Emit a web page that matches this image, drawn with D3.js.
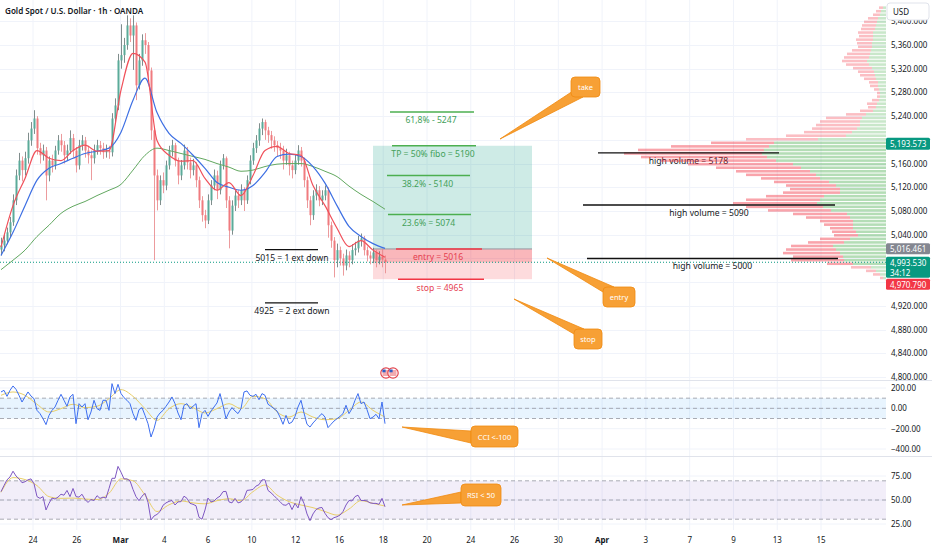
<!DOCTYPE html>
<html>
<head>
<meta charset="utf-8">
<script src="https://cdn.jsdelivr.net/npm/d3@7"></script>
<style>
  body { margin: 0; background: #fff; }
  svg { display: block; font-family: "Noto Sans", Roboto, sans-serif; }
</style>
</head>
<body>
<script>
// ---- data ----
const title = "Gold Spot / U.S. Dollar · 1h · OANDA";
const dateLabels = ["24","26","Mar","4","6","10","12","16","18","20","24","26","30","Apr","3","7","9","13","15"];
const boldDates = ["Mar", "Apr"];
const priceTicks = [4800,4840,4880,4920,4960,5000,5040,5080,5120,5160,5200,5240,5280,5320,5360,5400];
const cciTicks = [200, 0, -200, -400];
const rsiTicks = [75, 50, 25];

const opens = [5015,5022,5030,5044,5061,5098,5140,5165,5149,5169,
5199,5219,5236,5186,5174,5182,5140,5165,5157,5182,
5199,5191,5174,5182,5203,5182,5157,5191,5199,5182,
5174,5169,5182,5191,5186,5179,5182,5179,5236,5258,
5334,5343,5360,5393,5376,5393,5292,5334,5368,5360,
5317,5216,5140,5098,5132,5123,5157,5182,5191,5165,
5140,5157,5182,5162,5149,5157,5132,5098,5073,5064,
5098,5123,5140,5115,5157,5169,5098,5047,5089,5106,
5098,5115,5098,5132,5165,5186,5199,5219,5230,5216,
5208,5199,5191,5186,5182,5165,5174,5157,5149,5165,
5182,5165,5132,5098,5073,5106,5115,5098,5106,5115,
5056,5030,4997,5014,5000,4988,5005,4997,5014,5017,
5030,5034,5014,5005,5000,5010,4997,5003,4998];
const highs = [5035,5040,5052,5070,5108,5150,5178,5172,5180,5212,
5230,5250,5240,5195,5192,5188,5172,5175,5190,5208,
5210,5198,5192,5216,5210,5188,5200,5208,5205,5190,
5182,5192,5200,5198,5195,5192,5190,5245,5270,5345,
5395,5372,5410,5405,5410,5398,5345,5378,5380,5365,
5322,5222,5150,5140,5145,5165,5190,5200,5195,5170,
5166,5192,5188,5170,5168,5162,5138,5105,5082,5108,
5132,5150,5148,5165,5176,5172,5105,5098,5115,5115,
5125,5120,5140,5174,5195,5208,5228,5236,5234,5222,
5215,5206,5198,5195,5190,5185,5180,5165,5175,5191,
5188,5170,5138,5105,5115,5125,5122,5115,5123,5120,
5062,5036,5025,5020,5008,5015,5012,5024,5028,5038,
5042,5038,5020,5012,5018,5015,5012,5016,5005];
const lows = [5005,5012,5024,5036,5055,5090,5132,5130,5140,5160,
5190,5210,5175,5160,5165,5098,5130,5145,5150,5175,
5180,5160,5165,5176,5170,5145,5150,5182,5170,5160,
5132,5160,5175,5175,5168,5170,5168,5172,5228,5250,
5320,5330,5352,5365,5318,5267,5285,5325,5345,5300,
5200,4997,5081,5090,5110,5115,5150,5172,5155,5125,
5132,5150,5150,5135,5140,5120,5085,5062,5051,5058,
5090,5115,5100,5108,5150,5085,5017,5040,5080,5085,
5090,5080,5092,5125,5158,5178,5190,5208,5200,5195,
5185,5180,5172,5168,5150,5158,5140,5135,5142,5158,
5155,5120,5085,5056,5065,5098,5088,5090,5098,5035,
5018,4968,4985,4988,4971,4980,4985,4990,5005,5010,
5020,5005,4995,4990,4992,4985,4990,4985,4975];
const closes = [5022,5030,5044,5061,5098,5140,5165,5149,5169,5199,
5219,5236,5186,5174,5182,5140,5165,5157,5182,5199,
5191,5174,5182,5203,5182,5157,5191,5199,5182,5174,
5169,5182,5191,5186,5179,5182,5179,5236,5258,5334,
5343,5360,5393,5376,5393,5292,5334,5368,5360,5317,
5216,5140,5098,5132,5123,5157,5182,5191,5165,5140,
5157,5182,5162,5149,5157,5132,5098,5073,5064,5098,
5123,5140,5115,5157,5169,5098,5047,5089,5106,5098,
5115,5098,5132,5165,5186,5199,5219,5230,5216,5208,
5199,5191,5186,5182,5165,5174,5157,5149,5165,5182,
5165,5132,5098,5073,5106,5115,5098,5106,5115,5056,
5030,4997,5014,5000,4988,5005,4997,5014,5017,5030,
5034,5014,5005,5000,5010,4997,5003,4998,4993.53];

// moving averages, one value every 4 bars
const maStep = 4;
const maFast = [5019,5089,5135,5182,5169,5165,5182,5191,5181,5182,5284,5346,5331,5199,5174,5164,5165,5135,5115,5128,5106,5140,5182,5189,5177,5174,5123,5089,5051,5020,5030,5014,5002];
const maMid  = [5005,5044,5089,5132,5152,5160,5169,5177,5181,5186,5213,5267,5304,5246,5211,5194,5174,5152,5128,5120,5115,5123,5145,5172,5176,5172,5155,5127,5089,5054,5037,5025,5017];
const maSlow = [4981,4997,5014,5037,5056,5076,5088,5096,5106,5115,5125,5149,5174,5186,5182,5177,5172,5167,5160,5154,5147,5149,5155,5159,5160,5160,5155,5147,5138,5122,5108,5096,5083];

const cci = [161,177,118,177,220,187,128,62,112,161,
121,95,-20,-52,-102,-160,-69,-20,13,79,
138,79,20,112,138,-151,46,13,46,-112,
-36,79,-3,-20,79,79,-20,243,145,236,
145,105,79,46,-52,-118,-13,7,-69,-151,
-282,-200,-86,-46,-20,20,62,112,46,-46,
-112,30,46,-3,20,46,-190,-52,-20,-79,
-26,13,53,145,30,-102,-36,7,-26,-52,
-3,161,171,128,118,138,85,145,128,40,
20,-3,-26,-86,-157,-69,-151,-135,-79,13,
79,-46,-157,-184,-144,-112,-79,-52,-86,-190,
-157,-125,-102,-79,-52,30,-52,-3,79,145,
46,62,-13,-102,-86,-59,-102,62,-151];
const cciSignal = [128,161,128,40,-36,-3,40,7,20,95,184,118,-3,-118,-3,46,7,-46,-3,46,-3,118,95,-36,-86,-36,-86,-112,-102,-20,62,-20,-86];

const rsi = [58.7,65,71,74,80,75,72,68,69,71,
72,67,53.5,51.7,53.5,39.6,46.5,52,51,53,
56,55,60,53.5,62,53.5,53,56,50.5,47.5,
50.5,49.5,54.5,51.7,53,52,62,72.6,72.6,85,
79,72,72,70,61,53.5,49.3,54,57,47.5,
29.2,33.3,35,38,44.5,47,48.6,49.5,44.8,48,
48.3,54,51.7,46.5,45.5,44,32,30,39.6,52,
48,49,52,54,58.7,59,48,47,51.7,47,
48,51.7,60,60.4,61,64.5,66,71,71,60,
57.5,54.5,51.3,48.3,45,44.5,47,40,46.5,41.7,
53.5,46.5,35.5,28.5,35.5,40,41.7,42.2,36.1,31.6,
29.5,31.6,32.6,34.3,38,44.8,49.5,49,53.5,55,
49.5,49.5,49,47,46.5,46.5,45.5,51.7,43];
const rsiSignal = [58,73.3,71.3,65,53.5,51.7,52,51,50.5,57,72,70,55.2,38,45,49,47,46,49.3,51.3,49.3,58.7,65.6,55.2,48.3,44.8,42,38,34.3,40.6,49.3,46.5,43.7];

// visible range volume profile, rows of 6 from 4964
const profileStart = 4964, profileStep = 6;
const profileTotal = [6,13,20,35,59,95,93,103,100,95,78,66,52,54,56,62,66,80,93,118,140,153,140,120,103,96,100,112,125,140,150,170,198,225,245,262,248,215,175,140,100,82,74,70,66,60,40,26,18,19,14,9,9,12,16,17,22,26,28,33,40,44,42,39,34,28,29,30,27,28,25,24,22,18,13,10,7];
const profileUp = [3,6,10,15,33,42,43,46,50,53,42,36,28,30,33,33,33,36,39,55,63,69,66,62,46,46,50,57,66,70,76,85,93,110,119,124,122,117,112,68,40,34,29,26,26,24,20,13,10,9,7,6,6,7,8,8,10,11,12,14,17,19,17,16,15,14,14,13,13,13,11,10,9,8,6,5,3];
const valueArea = [4988, 5200];

// drawings
const takeProfit = 5190, entryPrice = 5016, stopPrice = 4965;
const levelTexts = ["61,8% - 5247", "TP = 50% fibo = 5190", "38.2% - 5140", "23.6% = 5074", "entry = 5016", "stop = 4965"];
const levelPrices = [5247, 5190, 5140, 5074, 5016, 4965];
const extTexts = ["5015 = 1 ext down", "4925  = 2 ext down"];
const extPrices = [5015, 4925];
const hvTexts = ["high volume = 5178", "high volume = 5090", "high volume = 5000"];
const hvPrices = [5178, 5090, 5000];
const calloutTexts = ["take", "entry", "stop", "CCI <-100", "RSI < 50"];

const lastPrice = 4993.53, countdown = "34:12";
const axisMarks = [5193.573, 5016.461, 4970.790];

// ---- layout ----
const W = 932, H = 550;
const plotR = 886;
const mainBottom = 380, cciBottom = 456, rsiBottom = 530;

const svg = d3.select("body").append("svg").attr("width", W).attr("height", H);
const defs = svg.append("defs");
defs.append("clipPath").attr("id", "clipMain").append("rect").attr("x", 0).attr("y", 0).attr("width", plotR).attr("height", mainBottom);
defs.append("clipPath").attr("id", "clipCci").append("rect").attr("x", 0).attr("y", mainBottom + 1).attr("width", plotR).attr("height", cciBottom - mainBottom - 1);
defs.append("clipPath").attr("id", "clipRsi").append("rect").attr("x", 0).attr("y", cciBottom + 1).attr("width", plotR).attr("height", rsiBottom - cciBottom - 1);

const xBar = d3.scaleLinear().domain([0, closes.length - 1]).range([1, 385]);
const xDate = d3.scaleLinear().domain([0, dateLabels.length - 1]).range([33, 821]);
const y = d3.scaleLinear().domain([4800, 5360]).range([377, 45]);
const yCci = d3.scaleLinear().domain([-400, 200]).range([449, 388]);
const yRsi = d3.scaleLinear().domain([25, 75]).range([524, 476]);
const xVol = d3.scaleLinear().domain([0, 300]).range([plotR, plotR - 300]);

const ink = "#131722";
const gridC = "#f0f3fa";

// grid
const grid = svg.append("g");
grid.selectAll("line.v").data(dateLabels).join("line")
  .attr("x1", (d, i) => xDate(i)).attr("x2", (d, i) => xDate(i))
  .attr("y1", 0).attr("y2", rsiBottom)
  .attr("stroke", gridC);
grid.selectAll("line.h").data(priceTicks).join("line")
  .attr("x1", 0).attr("x2", plotR)
  .attr("y1", d => Math.round(y(d)) + 0.5).attr("y2", d => Math.round(y(d)) + 0.5)
  .attr("stroke", gridC);
grid.selectAll("line.hc").data(cciTicks).join("line")
  .attr("x1", 0).attr("x2", plotR).attr("y1", d => yCci(d)).attr("y2", d => yCci(d)).attr("stroke", gridC);
grid.selectAll("line.hr").data(rsiTicks).join("line")
  .attr("x1", 0).attr("x2", plotR).attr("y1", d => yRsi(d)).attr("y2", d => yRsi(d)).attr("stroke", gridC);

// panel separators
svg.selectAll("line.sep").data([mainBottom, cciBottom]).join("line")
  .attr("x1", 0).attr("x2", W).attr("y1", d => d + 0.5).attr("y2", d => d + 0.5)
  .attr("stroke", "#e0e3eb");

// ---- main pane ----
const main = svg.append("g").attr("clip-path", "url(#clipMain)");

// long position box
const posL = 373, posR = 532;
main.append("rect").attr("x", posL).attr("width", posR - posL)
  .attr("y", y(takeProfit)).attr("height", y(entryPrice) - y(takeProfit))
  .attr("fill", "rgba(8,153,129,0.2)");
main.append("rect").attr("x", posL).attr("width", posR - posL)
  .attr("y", y(entryPrice)).attr("height", y(stopPrice) - y(entryPrice))
  .attr("fill", "rgba(242,54,69,0.18)");
main.append("rect").attr("x", posL).attr("width", posR - posL)
  .attr("y", y(entryPrice)).attr("height", y(lastPrice) - y(entryPrice))
  .attr("fill", "rgba(242,54,69,0.22)");
main.append("line").attr("x1", posL).attr("x2", posR)
  .attr("y1", y(entryPrice)).attr("y2", y(entryPrice)).attr("stroke", "#9598a1");

// high volume labels sit under the profile
const hvLines = [[598, 779], [583, 835], [587, 838]];
main.selectAll("text.hv").data(hvTexts).join("text")
  .attr("x", (d, i) => (hvLines[i][0] + hvLines[i][1]) / 2)
  .attr("y", (d, i) => y(hvPrices[i]) + 11)
  .attr("text-anchor", "middle").attr("font-size", 8.6).attr("fill", ink)
  .text(d => d);

// volume profile
const rows = profileTotal.map((t, k) => ({
  k, total: t, up: profileUp[k],
  price: profileStart + profileStep * (k + 0.5)
}));
const inVA = d => d.price >= valueArea[0] && d.price <= valueArea[1];
const rowH = Math.abs(y(0) - y(profileStep)) * 0.72;
const vp = main.append("g");
vp.selectAll("rect.dn").data(rows).join("rect")
  .attr("x", d => xVol(d.total)).attr("width", d => xVol(d.up) - xVol(d.total))
  .attr("y", d => y(d.price) - rowH / 2).attr("height", rowH)
  .attr("fill", d => inVA(d) ? "rgba(242,54,69,0.45)" : "rgba(242,54,69,0.32)");
vp.selectAll("rect.up").data(rows).join("rect")
  .attr("x", d => xVol(d.up)).attr("width", d => plotR - xVol(d.up))
  .attr("y", d => y(d.price) - rowH / 2).attr("height", rowH)
  .attr("fill", d => inVA(d) ? "rgba(76,175,80,0.42)" : "rgba(76,175,80,0.3)");

// candles
const candles = closes.map((c, i) => ({ i, o: opens[i], h: highs[i], l: lows[i], c }));
const upC = "#3f9d89", dnC = "#ee6569";
const cg = main.append("g").attr("opacity", 0.85);
cg.selectAll("line").data(candles).join("line")
  .attr("x1", d => xBar(d.i) + 0.5).attr("x2", d => xBar(d.i) + 0.5)
  .attr("y1", d => y(d.h)).attr("y2", d => y(d.l))
  .attr("stroke", d => d.c >= d.o ? "#6a7a78" : "#e98a8d").attr("stroke-width", 1);
cg.selectAll("rect").data(candles).join("rect")
  .attr("x", d => xBar(d.i) - 0.5).attr("width", 2)
  .attr("y", d => y(Math.max(d.o, d.c)))
  .attr("height", d => Math.max(1, Math.abs(y(d.o) - y(d.c))))
  .attr("fill", d => d.c >= d.o ? upC : dnC);

// moving averages
const maLine = d3.line().x((d, k) => xBar(k * maStep)).y(d => y(d)).curve(d3.curveMonotoneX);
[[maSlow, "#62a860", 1], [maMid, "#3d6fe3", 1.2], [maFast, "#f0505a", 1.2]].forEach(([s, c, w]) => {
  main.append("path").attr("d", maLine(s)).attr("fill", "none").attr("stroke", c).attr("stroke-width", w);
});

// last price dotted line
main.append("line").attr("x1", 0).attr("x2", plotR)
  .attr("y1", y(lastPrice)).attr("y2", y(lastPrice))
  .attr("stroke", "#089981").attr("stroke-dasharray", "1,2");

// fib / trade levels
const levelX = [[390, 474], [392, 476], [387, 470], [388, 471], [396, 482], [398, 484]];
const levelC = ["#4caf50", "#4caf50", "#4caf50", "#4caf50", "#f23645", "#f23645"];
const levelTxtC = ["#43a05a", "#43a05a", "#43a05a", "#43a05a", "#e5404f", "#e5404f"];
main.selectAll("line.lv").data(levelPrices).join("line")
  .attr("x1", (d, i) => levelX[i][0]).attr("x2", (d, i) => levelX[i][1])
  .attr("y1", d => y(d)).attr("y2", d => y(d))
  .attr("stroke", (d, i) => levelC[i]).attr("stroke-width", 1.5);
main.selectAll("text.lv").data(levelTexts).join("text")
  .attr("x", (d, i) => (levelX[i][0] + levelX[i][1]) / 2 - 1)
  .attr("y", (d, i) => y(levelPrices[i]) + 11.5)
  .attr("text-anchor", "middle").attr("font-size", 8.6).attr("fill", (d, i) => levelTxtC[i])
  .text(d => d);

// extension notes
main.selectAll("line.ext").data(extPrices).join("line")
  .attr("x1", 265).attr("x2", 318).attr("y1", d => y(d)).attr("y2", d => y(d))
  .attr("stroke", "#111").attr("stroke-width", 1.3);
main.selectAll("text.ext").data(extTexts).join("text")
  .attr("x", 292).attr("y", (d, i) => y(extPrices[i]) + 11.5)
  .attr("text-anchor", "middle").attr("font-size", 8.6).attr("fill", ink)
  .style("white-space", "pre").text(d => d);

// high volume lines
main.selectAll("line.hv").data(hvPrices).join("line")
  .attr("x1", (d, i) => hvLines[i][0]).attr("x2", (d, i) => hvLines[i][1])
  .attr("y1", d => y(d)).attr("y2", d => y(d))
  .attr("stroke", "#111").attr("stroke-width", 1.4);

// event flags
const flags = svg.append("g");
[386, 393].forEach(cx => {
  flags.append("circle").attr("cx", cx).attr("cy", 373).attr("r", 5.2)
    .attr("fill", "#fff").attr("stroke", "#e2444d").attr("stroke-width", 1.2);
  [-2, 0, 2].forEach(dy => flags.append("line").attr("x1", cx - 3.5).attr("x2", cx + 3.5)
    .attr("y1", 373 + dy).attr("y2", 373 + dy).attr("stroke", "#e2444d").attr("stroke-width", 0.9));
  flags.append("rect").attr("x", cx - 3.6).attr("y", 369.5).attr("width", 3.2).attr("height", 2.8).attr("fill", "#2f5fc4");
});

// ---- CCI pane ----
const cciG = svg.append("g").attr("clip-path", "url(#clipCci)");
cciG.append("rect").attr("x", 0).attr("width", plotR)
  .attr("y", yCci(100)).attr("height", yCci(-100) - yCci(100))
  .attr("fill", "rgba(33,150,243,0.1)");
cciG.selectAll("line.dash").data([100, 0, -100]).join("line")
  .attr("x1", 0).attr("x2", plotR).attr("y1", d => yCci(d)).attr("y2", d => yCci(d))
  .attr("stroke", "#9598a1").attr("stroke-dasharray", "4,3").attr("stroke-width", 0.8);
cciG.append("path")
  .attr("d", d3.line().x((d, k) => xBar(k * maStep)).y(d => yCci(d)).curve(d3.curveMonotoneX)(cciSignal))
  .attr("fill", "none").attr("stroke", "#e9cf6a").attr("stroke-width", 1);
cciG.append("path")
  .attr("d", d3.line().x((d, i) => xBar(i)).y(d => yCci(d))(cci))
  .attr("fill", "none").attr("stroke", "#3d6ef0").attr("stroke-width", 1);

// ---- RSI pane ----
const rsiG = svg.append("g").attr("clip-path", "url(#clipRsi)");
rsiG.append("rect").attr("x", 0).attr("width", plotR)
  .attr("y", yRsi(70)).attr("height", yRsi(30) - yRsi(70))
  .attr("fill", "rgba(126,87,194,0.1)");
rsiG.selectAll("line.dash").data([70, 50, 30]).join("line")
  .attr("x1", 0).attr("x2", plotR).attr("y1", d => yRsi(d)).attr("y2", d => yRsi(d))
  .attr("stroke", "#9598a1").attr("stroke-dasharray", "4,3").attr("stroke-width", 0.8);
rsiG.append("path")
  .attr("d", d3.line().x((d, k) => xBar(k * maStep)).y(d => yRsi(d)).curve(d3.curveMonotoneX)(rsiSignal))
  .attr("fill", "none").attr("stroke", "#e9cf6a").attr("stroke-width", 1);
rsiG.append("path")
  .attr("d", d3.line().x((d, i) => xBar(i)).y(d => yRsi(d))(rsi))
  .attr("fill", "none").attr("stroke", "#7e57c2").attr("stroke-width", 1);

// callouts, on top of every pane
const callouts = [
  { box: [571, 77, 29, 20], tip: [500, 139], base: [[573, 91], [583, 97]] },
  { box: [603, 287, 32, 20], tip: [547, 258], base: [[603, 292], [614, 287]] },
  { box: [574, 329, 28, 20], tip: [514, 299], base: [[574, 334], [584, 329]] },
  { box: [471, 426, 47, 21], tip: [402, 427], base: [[471, 431], [471, 443]] },
  { box: [461, 484, 40, 22], tip: [402, 505], base: [[461, 492], [461, 503]] }
];
const co = svg.append("g");
callouts.forEach((c, i) => {
  const [bx, by, bw, bh] = c.box;
  co.append("path")
    .attr("d", d3.line()([c.tip, c.base[0], c.base[1]]) + "Z")
    .attr("fill", "#f7a035").attr("stroke", "#f08a10").attr("stroke-width", 0.8);
  co.append("rect").attr("x", bx).attr("y", by).attr("width", bw).attr("height", bh)
    .attr("rx", 4).attr("fill", "#f7a035").attr("stroke", "#f08a10").attr("stroke-width", 0.8);
  co.append("text").attr("x", bx + bw / 2).attr("y", by + bh / 2 + 3)
    .attr("text-anchor", "middle").attr("font-size", 7.5).attr("fill", "#fff")
    .text(calloutTexts[i]);
});

// ---- axes ----
svg.append("text").attr("x", 5).attr("y", 14).attr("font-size", 8.1).attr("font-weight", 600)
  .attr("fill", ink).text(title);

// price marks placed on the axis (label centres, pushed apart like the platform does)
const markY = [y(axisMarks[0]), y(axisMarks[1]), y(lastPrice) + 5, y(axisMarks[2]) + 8.5];
const freeTick = d => markY.every(m => Math.abs(y(d) - m) > 11);

const ax = svg.append("g").attr("font-size", 8).attr("fill", ink);
ax.selectAll("text.p").data(priceTicks.filter(freeTick)).join("text")
  .attr("x", 891).attr("y", d => y(d) + 3).text(d => d3.format(",.3f")(d));
ax.selectAll("text.c").data(cciTicks).join("text")
  .attr("x", 891).attr("y", d => yCci(d) + 3).text(d => d3.format(".2f")(d));
ax.selectAll("text.r").data(rsiTicks).join("text")
  .attr("x", 891).attr("y", d => yRsi(d) + 3).text(d => d3.format(".2f")(d));
ax.selectAll("text.d").data(dateLabels).join("text")
  .attr("x", (d, i) => xDate(i)).attr("y", 543).attr("text-anchor", "middle")
  .attr("font-weight", d => boldDates.includes(d) ? 700 : 400)
  .text(d => d);

// USD box
svg.append("rect").attr("x", 887).attr("y", 3).attr("width", 42).attr("height", 17)
  .attr("rx", 3).attr("fill", "#fff").attr("stroke", "#e0e3eb");
svg.append("text").attr("x", 893).attr("y", 15).attr("font-size", 8).attr("fill", ink).text("USD");

const fmt = d3.format(",.3f");
function mark(cy, h, bg, lines) {
  svg.append("rect").attr("x", 886).attr("y", cy - h / 2).attr("width", 44).attr("height", h)
    .attr("rx", 1.5).attr("fill", bg);
  lines.forEach((t, j) => svg.append("text").attr("x", 890).attr("y", cy - h / 2 + 9 + j * 10)
    .attr("font-size", 8).attr("fill", "#fff").text(t));
}
mark(markY[0], 12, "#089981", [fmt(axisMarks[0])]);
mark(markY[1], 11, "#848791", [fmt(axisMarks[1])]);
mark(markY[2], 21, "#089981", [fmt(lastPrice), countdown]);
mark(markY[3], 11, "#f23645", [fmt(axisMarks[2])]);
</script>
</body>
</html>
